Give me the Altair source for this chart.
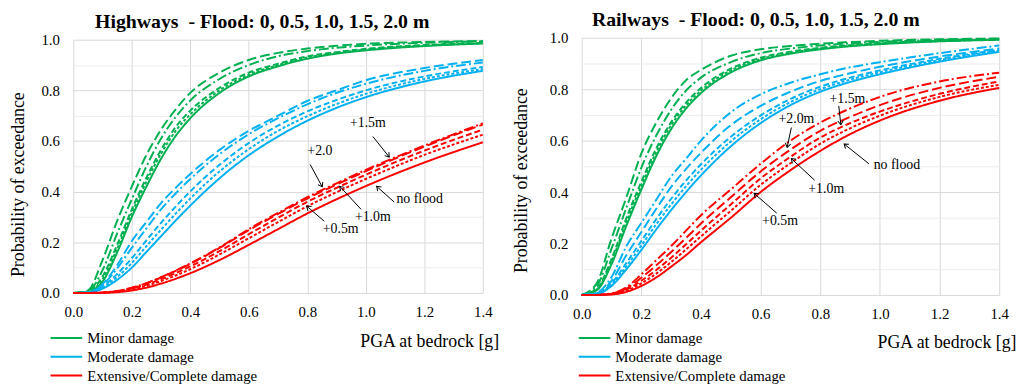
import math
import altair as alt
import pandas as pd

# ---------------- data ----------------
PGA = [0, 0.05, 0.1, 0.15, 0.2, 0.25, 0.3, 0.35, 0.4, 0.5, 0.6, 0.7, 0.8, 0.9, 1.0, 1.2, 1.4]

DAMAGES = ["Minor damage", "Moderate damage", "Extensive/Complete damage"]
FLOODS = ["no flood", "+0.5m", "+1.0m", "+1.5m", "+2.0m"]

# Highways
HW_MINOR_NF = [0, 0.003, 0.045, 0.16, 0.30, 0.42, 0.53, 0.62, 0.69, 0.79, 0.855, 0.895, 0.925, 0.945, 0.958, 0.975, 0.985]
HW_MINOR_05 = [0, 0.004, 0.055, 0.175, 0.315, 0.44, 0.55, 0.64, 0.705, 0.80, 0.862, 0.90, 0.93, 0.948, 0.961, 0.977, 0.986]
HW_MINOR_10 = [0, 0.005, 0.065, 0.19, 0.33, 0.455, 0.565, 0.655, 0.72, 0.81, 0.87, 0.905, 0.934, 0.951, 0.964, 0.979, 0.987]
HW_MINOR_15 = [0, 0.01, 0.13, 0.285, 0.42, 0.545, 0.645, 0.725, 0.79, 0.87, 0.92, 0.948, 0.965, 0.976, 0.984, 0.991, 0.995]
HW_MINOR_20 = [0, 0.007, 0.09, 0.235, 0.37, 0.50, 0.61, 0.695, 0.76, 0.845, 0.90, 0.935, 0.955, 0.968, 0.977, 0.988, 0.993]

HW_MOD_NF = [0, 0.001, 0.017, 0.052, 0.10, 0.162, 0.224, 0.286, 0.345, 0.453, 0.544, 0.618, 0.68, 0.731, 0.773, 0.835, 0.877]
HW_MOD_05 = [0, 0.001, 0.021, 0.063, 0.118, 0.185, 0.25, 0.313, 0.373, 0.48, 0.568, 0.64, 0.698, 0.746, 0.786, 0.845, 0.884]
HW_MOD_10 = [0, 0.002, 0.025, 0.075, 0.137, 0.208, 0.277, 0.341, 0.401, 0.506, 0.592, 0.661, 0.717, 0.762, 0.80, 0.855, 0.892]
HW_MOD_15 = [0, 0.002, 0.035, 0.11, 0.205, 0.28, 0.355, 0.415, 0.47, 0.565, 0.64, 0.70, 0.758, 0.80, 0.84, 0.888, 0.92]
HW_MOD_20 = [0, 0.002, 0.031, 0.097, 0.178, 0.255, 0.33, 0.393, 0.45, 0.548, 0.627, 0.69, 0.745, 0.79, 0.826, 0.877, 0.91]

HW_EXT_NF = [0, 0, 0.0005, 0.003, 0.01, 0.021, 0.037, 0.056, 0.078, 0.13, 0.19, 0.252, 0.314, 0.37, 0.422, 0.515, 0.595]
HW_EXT_05 = [0, 0, 0.001, 0.005, 0.014, 0.028, 0.047, 0.069, 0.094, 0.152, 0.216, 0.28, 0.342, 0.398, 0.45, 0.545, 0.625]
HW_EXT_10 = [0, 0, 0.001, 0.006, 0.017, 0.033, 0.054, 0.078, 0.105, 0.165, 0.232, 0.297, 0.36, 0.415, 0.467, 0.562, 0.645]
HW_EXT_15 = [0, 0, 0.0015, 0.008, 0.02, 0.038, 0.061, 0.087, 0.115, 0.178, 0.248, 0.312, 0.373, 0.428, 0.481, 0.578, 0.665]
HW_EXT_20 = [0, 0, 0.0015, 0.008, 0.021, 0.039, 0.062, 0.088, 0.117, 0.18, 0.252, 0.316, 0.378, 0.433, 0.486, 0.582, 0.67]

# Railways
RW_MINOR_NF = [0, 0.018, 0.12, 0.27, 0.41, 0.54, 0.645, 0.725, 0.785, 0.865, 0.912, 0.938, 0.955, 0.967, 0.975, 0.986, 0.992]
RW_MINOR_05 = [0, 0.021, 0.13, 0.285, 0.425, 0.555, 0.66, 0.737, 0.795, 0.873, 0.917, 0.942, 0.958, 0.969, 0.977, 0.987, 0.993]
RW_MINOR_10 = [0, 0.024, 0.14, 0.30, 0.44, 0.57, 0.672, 0.748, 0.805, 0.88, 0.922, 0.946, 0.961, 0.971, 0.979, 0.988, 0.993]
RW_MINOR_15 = [0, 0.045, 0.22, 0.38, 0.55, 0.67, 0.765, 0.835, 0.875, 0.93, 0.955, 0.968, 0.977, 0.983, 0.988, 0.994, 0.997]
RW_MINOR_20 = [0, 0.034, 0.18, 0.34, 0.495, 0.62, 0.72, 0.795, 0.845, 0.905, 0.94, 0.958, 0.97, 0.978, 0.984, 0.991, 0.995]

RW_MOD_NF = [0, 0.003, 0.035, 0.10, 0.175, 0.255, 0.33, 0.40, 0.465, 0.578, 0.668, 0.738, 0.79, 0.828, 0.858, 0.907, 0.945]
RW_MOD_05 = [0, 0.004, 0.04, 0.112, 0.192, 0.275, 0.352, 0.423, 0.487, 0.597, 0.683, 0.75, 0.80, 0.837, 0.866, 0.913, 0.95]
RW_MOD_10 = [0, 0.004, 0.045, 0.125, 0.21, 0.295, 0.374, 0.445, 0.508, 0.615, 0.698, 0.762, 0.81, 0.845, 0.873, 0.918, 0.953]
RW_MOD_15 = [0, 0.006, 0.055, 0.155, 0.245, 0.335, 0.42, 0.49, 0.553, 0.66, 0.735, 0.79, 0.832, 0.862, 0.887, 0.927, 0.958]
RW_MOD_20 = [0, 0.008, 0.07, 0.19, 0.28, 0.37, 0.46, 0.53, 0.60, 0.71, 0.78, 0.825, 0.858, 0.885, 0.905, 0.94, 0.97]

RW_EXT_NF = [0, 0, 0.002, 0.012, 0.035, 0.068, 0.11, 0.155, 0.205, 0.30, 0.40, 0.485, 0.56, 0.625, 0.678, 0.755, 0.805]
RW_EXT_05 = [0, 0, 0.003, 0.016, 0.045, 0.083, 0.128, 0.177, 0.228, 0.327, 0.428, 0.512, 0.588, 0.648, 0.697, 0.77, 0.817]
RW_EXT_10 = [0, 0, 0.004, 0.02, 0.055, 0.097, 0.145, 0.197, 0.25, 0.352, 0.453, 0.537, 0.612, 0.668, 0.713, 0.782, 0.83]
RW_EXT_15 = [0, 0, 0.005, 0.025, 0.067, 0.115, 0.167, 0.222, 0.278, 0.38, 0.48, 0.565, 0.638, 0.692, 0.738, 0.805, 0.848]
RW_EXT_20 = [0, 0, 0.006, 0.03, 0.08, 0.135, 0.19, 0.25, 0.31, 0.41, 0.51, 0.60, 0.67, 0.725, 0.77, 0.83, 0.864]

# annotation labels and their anchor points (data units): text x, text y, arrow start x/y, arrow end x/y
HW_ANN_LABEL = ["+1.5m", "+2.0", "no flood", "+1.0m", "+0.5m"]
HW_ANN_TX = [1.007, 0.843, 1.184, 1.024, 0.914]
HW_ANN_TY = [0.670, 0.559, 0.372, 0.300, 0.254]
HW_ANN_X1 = [1.024, 0.810, 1.097, 0.984, 0.858]
HW_ANN_Y1 = [0.618, 0.507, 0.359, 0.330, 0.283]
HW_ANN_X2 = [1.080, 0.851, 1.037, 0.911, 0.798]
HW_ANN_Y2 = [0.537, 0.419, 0.421, 0.421, 0.343]

RW_ANN_LABEL = ["+1.5m", "+2.0m", "no flood", "+1.0m", "+0.5m"]
RW_ANN_TX = [0.891, 0.720, 1.057, 0.820, 0.665]
RW_ANN_TY = [0.760, 0.682, 0.504, 0.411, 0.289]
RW_ANN_X1 = [0.862, 0.703, 0.963, 0.781, 0.654]
RW_ANN_Y1 = [0.735, 0.651, 0.510, 0.446, 0.318]
RW_ANN_X2 = [0.869, 0.689, 0.880, 0.703, 0.578]
RW_ANN_Y2 = [0.662, 0.574, 0.587, 0.530, 0.395]

# ---------------- styling ----------------
COLORS = ["#00B050", "#00B0F0", "#FF0000"]
DASHES = [[1, 0], [3, 2], [6, 3], [10, 4], [10, 3, 2, 3]]
SERIF = "Liberation Serif"

HW = {
    "Minor damage": [HW_MINOR_NF, HW_MINOR_05, HW_MINOR_10, HW_MINOR_15, HW_MINOR_20],
    "Moderate damage": [HW_MOD_NF, HW_MOD_05, HW_MOD_10, HW_MOD_15, HW_MOD_20],
    "Extensive/Complete damage": [HW_EXT_NF, HW_EXT_05, HW_EXT_10, HW_EXT_15, HW_EXT_20],
}
RW = {
    "Minor damage": [RW_MINOR_NF, RW_MINOR_05, RW_MINOR_10, RW_MINOR_15, RW_MINOR_20],
    "Moderate damage": [RW_MOD_NF, RW_MOD_05, RW_MOD_10, RW_MOD_15, RW_MOD_20],
    "Extensive/Complete damage": [RW_EXT_NF, RW_EXT_05, RW_EXT_10, RW_EXT_15, RW_EXT_20],
}


def curves_df(series):
    rows = []
    for dmg in DAMAGES:
        for fl, vals in zip(FLOODS, series[dmg]):
            for x, p in zip(PGA, vals):
                rows.append({"pga": x, "p": p, "damage": dmg, "flood": fl})
    return pd.DataFrame(rows)


def ann_df(labels, tx, ty, x1, y1, x2, y2, w, h):
    sx, sy = w / 1.4, h / 1.0
    ang = []
    for a, b, c, d in zip(x1, y1, x2, y2):
        dx = (c - a) * sx
        dy = -(d - b) * sy
        ang.append(math.degrees(math.atan2(dy, dx)) % 360)
    return pd.DataFrame({"label": labels, "tx": tx, "ty": ty, "x1": x1, "y1": y1,
                         "x2": x2, "y2": y2, "ang": ang})


def panel(series, ann, title, w, h, title_dx, ytx, yty, xtx, xty, legx, legy):
    xscale = alt.Scale(domain=[0, 1.4], nice=False)
    yscale = alt.Scale(domain=[0, 1], nice=False)
    xaxis = alt.Axis(values=[0, 0.2, 0.4, 0.6, 0.8, 1.0, 1.2, 1.4], format=".1f",
                     title="PGA at bedrock [g]", titleFont=SERIF, titleFontSize=18,
                     titleFontWeight="normal", titleColor="black",
                     titleAlign="right", titleBaseline="middle", titleX=xtx, titleY=xty,
                     labelFont=SERIF, labelFontSize=15, labelColor="black",
                     labelPadding=12, labelFlush=False, labelOverlap=False,
                     ticks=False, tickSize=0, domain=False,
                     grid=True, gridColor="#d9d9d9", gridWidth=1)
    yaxis = alt.Axis(values=[0, 0.1, 0.2, 0.3, 0.4, 0.5, 0.6, 0.7, 0.8, 0.9, 1.0],
                     labelExpr="round(datum.value*10) % 2 == 0 ? format(datum.value, '.1f') : ''",
                     title="Probability of exceedance", titleFont=SERIF, titleFontSize=18,
                     titleFontWeight="normal", titleColor="black",
                     titleAlign="center", titleBaseline="middle", titleX=ytx, titleY=yty,
                     labelFont=SERIF, labelFontSize=15, labelColor="black",
                     labelPadding=14, labelOverlap=False,
                     ticks=False, tickSize=0, domain=False,
                     grid=True, gridWidth=1,
                     gridColor={"condition": {"test": "round(datum.value*10) % 2 == 1", "value": "#ececec"},
                                "value": "#d9d9d9"})

    lines = alt.Chart(curves_df(series)).mark_line(strokeWidth=2, interpolate="monotone").encode(
        x=alt.X("pga:Q", scale=xscale, axis=xaxis),
        y=alt.Y("p:Q", scale=yscale, axis=yaxis),
        color=alt.Color("damage:N", scale=alt.Scale(domain=DAMAGES, range=COLORS),
                        legend=alt.Legend(title=None, orient="none", legendX=legx, legendY=legy,
                                          symbolType="stroke", symbolStrokeWidth=2, symbolSize=1024,
                                          clipHeight=19, rowPadding=0, padding=0, labelOffset=4,
                                          labelFont=SERIF, labelFontSize=15, labelColor="black",
                                          labelLimit=400)),
        strokeDash=alt.StrokeDash("flood:N", scale=alt.Scale(domain=FLOODS, range=DASHES), legend=None),
    )

    adf = ann
    texts = alt.Chart(adf).mark_text(font=SERIF, fontSize=14, color="black",
                                     align="center", baseline="middle").encode(
        x=alt.X("tx:Q", scale=xscale, axis=xaxis),
        y=alt.Y("ty:Q", scale=yscale, axis=yaxis),
        text="label:N",
    )
    rules = alt.Chart(adf).mark_rule(color="black", strokeWidth=1).encode(
        x=alt.X("x1:Q", scale=xscale, axis=xaxis),
        y=alt.Y("y1:Q", scale=yscale, axis=yaxis),
        x2="x2:Q", y2="y2:Q",
    )
    heads = alt.Chart(adf).mark_point(shape="M-1,-0.7L0,0L-1,0.7", filled=False, stroke="black",
                                      strokeWidth=1, size=64, opacity=1).encode(
        x=alt.X("x2:Q", scale=xscale, axis=xaxis),
        y=alt.Y("y2:Q", scale=yscale, axis=yaxis),
        angle=alt.Angle("ang:Q", scale=None),
    )
    return alt.layer(lines, rules, heads, texts).properties(
        width=w, height=h,
        title=alt.Title(title, font=SERIF, fontSize=20, fontWeight="bold", color="black",
                        anchor="middle", frame="group", dx=title_dx, offset=1),
    )


LW, LH = 414, 256
RWW, RH = 422, 260

left = panel(HW, ann_df(HW_ANN_LABEL, HW_ANN_TX, HW_ANN_TY, HW_ANN_X1, HW_ANN_Y1, HW_ANN_X2, HW_ANN_Y2, LW, LH),
             "Highways\u00a0 - Flood: 0, 0.5, 1.0, 1.5, 2.0 m", LW, LH, -16,
             -55, 146, 430, 49, -24, 292)
right = panel(RW, ann_df(RW_ANN_LABEL, RW_ANN_TX, RW_ANN_TY, RW_ANN_X1, RW_ANN_Y1, RW_ANN_X2, RW_ANN_Y2, RWW, RH),
              "Railways\u00a0 - Flood: 0, 0.5, 1.0, 1.5, 2.0 m", RWW, RH, -35,
              -61, 144, 439, 48, -4, 294)

chart = alt.hconcat(left, right, spacing=100, bounds="flush", center=True).resolve_scale(
    color="independent", strokeDash="independent", x="independent", y="independent"
).resolve_legend(color="independent").properties(
    padding={"left": 2, "top": 0, "right": 0, "bottom": 0}
).configure(font=SERIF).configure_view(stroke=None)

chart.save("out.html", embed_options={"renderer": "svg", "actions": False})
